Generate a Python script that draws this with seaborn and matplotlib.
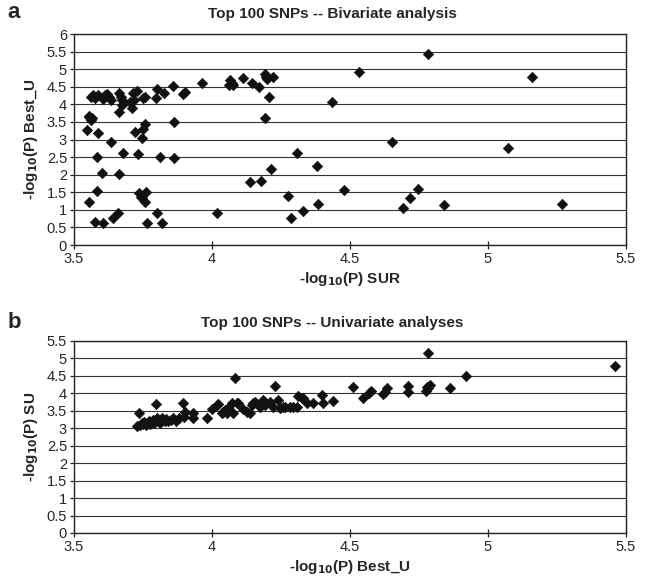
import numpy as np
import pandas as pd
import matplotlib
matplotlib.use("Agg")
import matplotlib.pyplot as plt
import seaborn as sns
from matplotlib.ticker import MultipleLocator, FuncFormatter

# Panel a: bivariate analysis
sur_a = [3.548, 3.555, 3.555, 3.564, 3.560, 3.563, 3.568, 3.587, 3.575, 3.588,
         3.584, 3.600, 3.584, 3.553, 3.577, 3.606, 3.612, 3.621, 3.628, 3.635,
         3.606, 3.633, 3.640, 3.661, 3.664, 3.679, 3.664, 3.664, 3.669, 3.673,
         3.674, 3.703, 3.713, 3.729, 3.717, 3.709, 3.722, 3.733, 3.746, 3.751,
         3.757, 3.737, 3.742, 3.746, 3.761, 3.758, 3.763, 3.751, 3.757, 3.797,
         3.800, 3.827, 3.802, 3.819, 3.812, 3.860, 3.862, 3.862, 3.894, 3.902,
         3.963, 4.065, 4.071, 4.077, 4.063, 4.113, 4.146, 4.170, 4.192, 4.200,
         4.222, 4.196, 4.208, 4.192, 4.434, 4.307, 4.379, 4.214, 4.138, 4.176,
         4.276, 4.385, 4.331, 4.286, 4.017, 4.784, 4.534, 5.158, 4.651, 5.074,
         4.478, 4.745, 4.717, 4.691, 4.841, 5.267]
best_a = [3.27, 3.63, 3.68, 3.62, 3.55, 4.22, 4.26, 4.26, 4.17, 3.19,
          2.51, 2.04, 1.54, 1.23, 0.66, 0.63, 4.26, 4.29, 4.22, 4.12,
          4.14, 2.94, 0.76, 0.90, 2.02, 2.61, 3.79, 4.31, 4.22, 4.12,
          3.98, 4.07, 4.33, 4.38, 4.12, 3.89, 3.22, 2.58, 3.03, 3.29,
          3.43, 1.47, 1.37, 1.33, 1.50, 1.23, 0.62, 4.17, 4.20, 4.17,
          4.43, 4.33, 0.92, 0.62, 2.50, 4.52, 3.49, 2.48, 4.28, 4.36,
          4.61, 4.69, 4.60, 4.55, 4.55, 4.74, 4.61, 4.48, 4.86, 4.71,
          4.79, 4.79, 4.22, 3.60, 4.06, 2.61, 2.25, 2.15, 1.78, 1.82,
          1.39, 1.16, 0.97, 0.76, 0.90, 5.43, 4.91, 4.79, 2.94, 2.75,
          1.56, 1.59, 1.33, 1.06, 1.14, 1.17]

# Panel b: univariate analyses
best_b = [3.737, 3.730, 3.740, 3.745, 3.750, 3.755, 3.760, 3.765, 3.770, 3.775,
          3.780, 3.785, 3.790, 3.795, 3.797, 3.800, 3.805, 3.810, 3.815, 3.820,
          3.830, 3.835, 3.840, 3.850, 3.860, 3.870, 3.880, 3.896, 3.900, 3.902,
          3.930, 3.932, 3.981, 3.999, 4.017, 4.023, 4.035, 4.041, 4.047, 4.053,
          4.059, 4.071, 4.077, 4.083, 4.089, 4.095, 4.113, 4.126, 4.138, 4.144,
          4.150, 4.156, 4.174, 4.186, 4.192, 4.210, 4.222, 4.228, 4.240, 4.246,
          4.258, 4.264, 4.283, 4.295, 4.307, 4.313, 4.325, 4.331, 4.343, 4.367,
          4.397, 4.403, 4.437, 4.510, 4.546, 4.570, 4.575, 4.620, 4.627, 4.633,
          4.711, 4.711, 4.775, 4.780, 4.784, 4.790, 4.784, 4.862, 4.920, 5.460]
su_b = [3.43, 3.07, 3.10, 3.14, 3.12, 3.18, 3.10, 3.15, 3.22, 3.12,
        3.18, 3.25, 3.15, 3.20, 3.70, 3.28, 3.22, 3.15, 3.25, 3.30,
        3.20, 3.27, 3.22, 3.25, 3.30, 3.22, 3.28, 3.73, 3.33, 3.48,
        3.43, 3.29, 3.29, 3.54, 3.67, 3.70, 3.43, 3.48, 3.52, 3.43,
        3.57, 3.73, 3.43, 4.43, 3.72, 3.73, 3.54, 3.48, 3.43, 3.67,
        3.72, 3.76, 3.62, 3.81, 3.67, 3.76, 3.62, 4.21, 3.81, 3.57,
        3.62, 3.62, 3.62, 3.60, 3.62, 3.93, 3.86, 3.86, 3.72, 3.72,
        3.95, 3.72, 3.79, 4.17, 3.86, 4.02, 4.08, 3.98, 4.05, 4.15,
        4.22, 4.05, 4.08, 4.19, 4.15, 4.24, 5.15, 4.16, 4.51, 4.77]

x_ticks = [3.5, 4.0, 4.5, 5.0, 5.5]

sns.set_theme(style="white")
plt.rcParams['font.family'] = ['Liberation Sans', 'DejaVu Sans']

W, H = 654, 585
fig = plt.figure(figsize=(W / 100, H / 100), dpi=100)

def fx(px):
    return px / W

def fy(py):
    return 1 - py / H

ax_a = fig.add_axes([fx(74), fy(245), fx(626) - fx(74), fy(34) - fy(245)])
ax_b = fig.add_axes([fx(74), fy(533), fx(626) - fx(74), fy(341) - fy(533)])

df_a = pd.DataFrame({"x": sur_a, "y": best_a})
df_b = pd.DataFrame({"x": best_b, "y": su_b})

fmt = FuncFormatter(lambda v, p: f"{v:g}")

def style(ax, ymax, xlabel, ylabel):
    ax.set_xlim(3.5, 5.5)
    ax.set_ylim(0, ymax)
    ax.set_xticks(x_ticks)
    ax.yaxis.set_major_locator(MultipleLocator(0.5))
    ax.xaxis.set_major_formatter(fmt)
    ax.yaxis.set_major_formatter(fmt)
    ax.grid(axis="y", color="#333333", lw=0.8)
    ax.grid(axis="x", visible=False)
    ax.set_axisbelow(True)
    for s in ax.spines.values():
        s.set_visible(True)
        s.set_color("#222222")
        s.set_linewidth(1.0)
    ax.tick_params(axis="x", direction="inout", length=6, width=0.9, color="#222222",
                   labelsize=10.5, pad=2, bottom=True)
    ax.tick_params(axis="y", direction="out", length=3, width=0.9, color="#222222",
                   labelsize=10.5, pad=2, left=True)
    ax.set_xlabel(xlabel, fontsize=11, fontweight="bold", labelpad=3)
    ax.set_ylabel(ylabel, fontsize=11, fontweight="bold", labelpad=5)

sns.scatterplot(data=df_a, x="x", y="y", ax=ax_a, marker="D", s=28,
                color="#111111", edgecolor="#111111", linewidth=0.5, zorder=3)
sns.scatterplot(data=df_b, x="x", y="y", ax=ax_b, marker="D", s=28,
                color="#111111", edgecolor="#111111", linewidth=0.5, zorder=3)

style(ax_a, 6, r"-log$_\mathbf{10}$(P) SUR", r"-log$_\mathbf{10}$(P) Best_U")
style(ax_b, 5.5, r"-log$_\mathbf{10}$(P) Best_U", r"-log$_\mathbf{10}$(P) SU")

fig.text(fx(332), fy(14), "Top 100 SNPs -- Bivariate analysis", ha="center", va="center",
         fontsize=11, fontweight="bold")
fig.text(fx(332), fy(323), "Top 100 SNPs -- Univariate analyses", ha="center", va="center",
         fontsize=11, fontweight="bold")
fig.text(fx(14), fy(12), "a", ha="center", va="center", fontsize=16, fontweight="bold")
fig.text(fx(14), fy(322), "b", ha="center", va="center", fontsize=16, fontweight="bold")

fig.savefig("out.png", dpi=100)
